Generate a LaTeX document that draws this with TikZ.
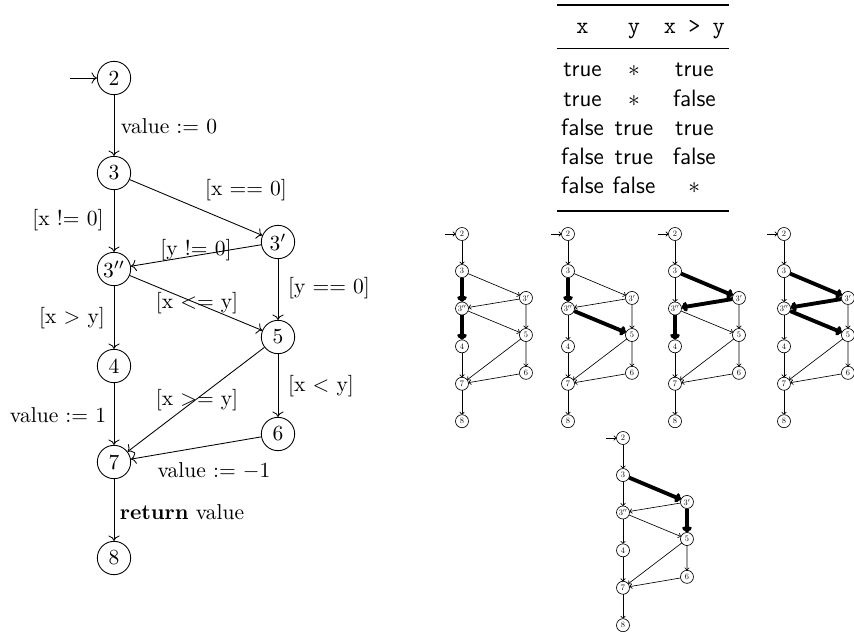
\documentclass[tikz,border=0pt]{standalone}
\usepackage{booktabs}
\usetikzlibrary{arrows.meta}
\tikzset{
  st/.style={circle, draw, minimum size=15.5pt, inner sep=1pt},
  lbl/.style={inner sep=0pt},
  hl/.style={line width=1.8pt, -{Computer Modern Rightarrow[length=2.8pt,width=4.6pt]}},
  e23/.style={}, e33p/.style={}, e33pp/.style={}, e3p3pp/.style={},
  e3pp4/.style={}, e3pp5/.style={}, e3p5/.style={}, e47/.style={},
  e56/.style={}, e57/.style={}, e67/.style={}, e78/.style={}
}
\newcommand\smallcfg[3]{%
\begin{scope}[shift={#2}, scale=0.39, transform shape, line width=0.3pt,
  >={Computer Modern Rightarrow[length=1.3pt,width=2.4pt]}, #3]
  \node[st] (#1n2) at (0,0) {2};
  \node[st] (#1n3) at (0,95) {3};
  \node[st] (#1n3pp) at (0,191) {$3''$};
  \node[st] (#1n4) at (0,288) {4};
  \node[st] (#1n7) at (0,384) {7};
  \node[st] (#1n8) at (0,480) {8};
  \node[st] (#1n3p) at (164,164) {$3'$};
  \node[st] (#1n5) at (164,259) {5};
  \node[st] (#1n6) at (164,356) {6};
  \coordinate (#1in) at (-44,0);
  \draw[->] (#1in) -- (#1n2);
  \draw[->,e23] (#1n2) -- (#1n3);
  \draw[->,e33pp] (#1n3) -- (#1n3pp);
  \draw[->,e33p] (#1n3) -- (#1n3p);
  \draw[->,e3p3pp] (#1n3p) -- (#1n3pp);
  \draw[->,e3pp4] (#1n3pp) -- (#1n4);
  \draw[->,e3pp5] (#1n3pp) -- (#1n5);
  \draw[->,e3p5] (#1n3p) -- (#1n5);
  \draw[->,e47] (#1n4) -- (#1n7);
  \draw[->,e56] (#1n5) -- (#1n6);
  \draw[->,e57] (#1n5) -- (#1n7);
  \draw[->,e67] (#1n6) -- (#1n7);
  \draw[->,e78] (#1n7) -- (#1n8);
\end{scope}}
\begin{document}
\begin{tikzpicture}[x=0.465pt, y=-0.465pt, >={Computer Modern Rightarrow}]
\useasboundingbox (0,0) rectangle (854,635);

% big control flow graph
\node[st] (n2) at (114,78) {2};
\node[st] (n3) at (114,173) {3};
\node[st] (n3pp) at (114,269) {$3''$};
\node[st] (n4) at (114,366) {4};
\node[st] (n7) at (114,462) {7};
\node[st] (n8) at (114,558) {8};
\node[st] (n3p) at (278,242) {$3'$};
\node[st] (n5) at (278,337) {5};
\node[st] (n6) at (278,434) {6};
\coordinate (init) at (70,78);
\draw[->] (init) -- (n2);
\draw[->] (n2) -- (n3) node[lbl] at (169,126) {value $:=$ 0};
\draw[->] (n3) -- (n3p) node[lbl] at (246,190) {[x $==$ 0]};
\draw[->] (n3) -- (n3pp) node[lbl] at (68,220) {[x !$=$ 0]};
\draw[->] (n3p) -- (n3pp) node[lbl] at (196,250) {[y !$=$ 0]};
\draw[->] (n3p) -- (n5) node[lbl] at (329,288) {[y $==$ 0]};
\draw[->] (n3pp) -- (n4) node[lbl] at (72,318) {[x $>$ y]};
\draw[->] (n3pp) -- (n5) node[lbl] at (197,303) {[x $<=$ y]};
\draw[->] (n5) -- (n7) node[lbl] at (197,400) {[x $>=$ y]};
\draw[->] (n5) -- (n6) node[lbl] at (321,386) {[x $<$ y]};
\draw[->] (n4) -- (n7) node[lbl] at (58,415) {value $:=$ 1};
\draw[->] (n6) -- (n7) node[lbl] at (214,471) {value $:=$ $-1$};
\draw[->] (n7) -- (n8) node[lbl] at (182,512) {\textbf{return} value};

% table
\node[anchor=north, inner sep=0pt] (tbl) at (643,4) {%
  \fontsize{11}{13.6}\selectfont\sffamily\setlength\tabcolsep{2pt}%
  \setlength\aboverulesep{2.5pt}\setlength\belowrulesep{3.4pt}%
  \begin{tabular}{ccc}
  \toprule
  \texttt{x} & \texttt{y} & \texttt{x > y}\\
  \midrule
  true & $\ast$ & true\\
  true & $\ast$ & false\\
  false & true & true\\
  false & true & false\\
  false & false & $\ast$\\
  \addlinespace[0.8pt]
  \bottomrule
  \end{tabular}};

% small graphs
\smallcfg{a}{(462,234)}{e33pp/.style=hl, e3pp4/.style=hl}
\smallcfg{b}{(568,234)}{e33pp/.style=hl, e3pp5/.style=hl}
\smallcfg{c}{(675,234)}{e33p/.style=hl, e3p3pp/.style=hl, e3pp4/.style=hl}
\smallcfg{d}{(784,234)}{e33p/.style=hl, e3p3pp/.style=hl, e3pp5/.style=hl}
\smallcfg{e}{(623,438)}{e33p/.style=hl, e3p5/.style=hl}
\end{tikzpicture}
\end{document}
